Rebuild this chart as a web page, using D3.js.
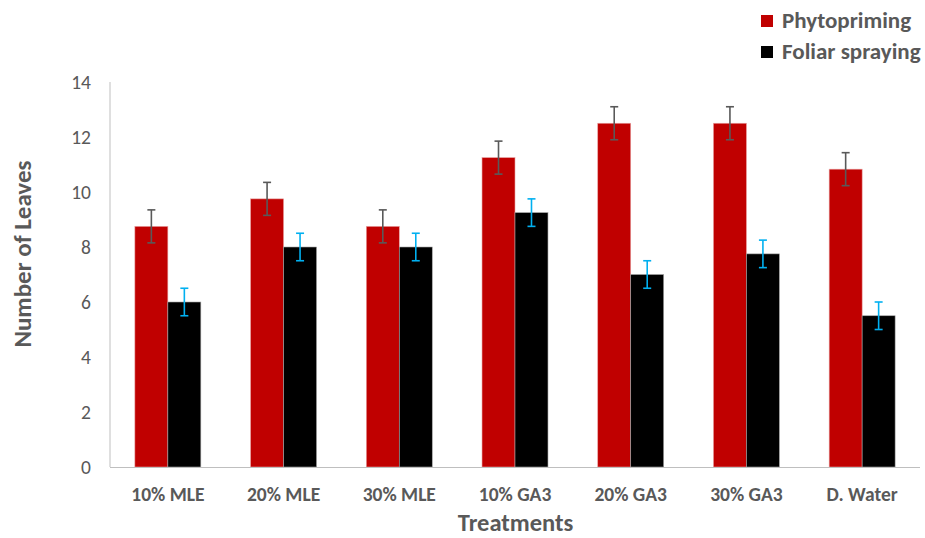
<!DOCTYPE html>
<html><head><meta charset="utf-8">
<script src="https://cdn.jsdelivr.net/npm/d3@7"></script>
<style>body{margin:0;background:#fff;} svg{display:block;}</style>
</head><body>
<svg id="c" width="925" height="538"></svg>
<script>
const categories = ["10% MLE","20% MLE","30% MLE","10% GA3","20% GA3","30% GA3","D. Water"];
const seriesNames = ["Phytopriming","Foliar spraying"];
const phytopriming = [8.75, 9.75, 8.75, 11.25, 12.5, 12.5, 10.83];
const phytoErr = [0.6, 0.6, 0.6, 0.6, 0.6, 0.6, 0.6];
const foliar = [6, 8, 8, 9.25, 7, 7.75, 5.5];
const foliarErr = [0.5, 0.5, 0.5, 0.5, 0.5, 0.5, 0.5];
const yTicks = [0,2,4,6,8,10,12,14];

const colors = ["#C00000","#000000"];
const errColors = ["#595959","#00B0F0"];
const font = "Calibri, Carlito, Lato, 'Open Sans', sans-serif";

const svg = d3.select("#c");
const L = 110, R = 920, T = 82, B = 467;
const x = d3.scaleBand().domain(categories).range([L, R]).paddingInner(0.43).paddingOuter(0.215);
const xs = d3.scaleBand().domain(seriesNames).range([0, x.bandwidth()]);
const y = d3.scaleLinear().domain([0,14]).range([B, T]);

svg.append("line").attr("x1",L).attr("x2",L).attr("y1",T).attr("y2",B).attr("stroke","#BFBFBF").attr("stroke-width",1);

const yAxis = d3.axisLeft(y).tickValues(yTicks).tickSize(0).tickPadding(19);
const ya = svg.append("g").attr("transform",`translate(${L},0)`).call(yAxis);
ya.select(".domain").remove();
ya.selectAll("text").attr("font-family",font).attr("font-size",19.5).attr("fill","#595959");

const data = [phytopriming, foliar];
const errs = [phytoErr, foliarErr];
data.forEach((vals, si) => {
  const g = svg.append("g");
  g.selectAll("rect").data(vals).join("rect")
    .attr("x",(d,i)=>x(categories[i])+xs(seriesNames[si]))
    .attr("y",d=>y(d))
    .attr("width",xs.bandwidth())
    .attr("height",d=>B-y(d))
    .attr("fill",colors[si])
    .attr("stroke", si===0 ? "#E8A0A0" : "#A6A6A6").attr("stroke-width",0.6);
});

svg.append("line").attr("x1",L).attr("x2",R).attr("y1",B+0.5).attr("y2",B+0.5).attr("stroke","#BFBFBF").attr("stroke-width",1.2);

data.forEach((vals, si) => {
  const g = svg.append("g").attr("stroke",errColors[si]).attr("stroke-width",1.6);
  vals.forEach((v,i)=>{
    const cx = x(categories[i])+xs(seriesNames[si])+xs.bandwidth()/2;
    const e = errs[si][i];
    g.append("line").attr("x1",cx).attr("x2",cx).attr("y1",y(v+e)).attr("y2",y(v-e));
    g.append("line").attr("x1",cx-4).attr("x2",cx+4).attr("y1",y(v+e)).attr("y2",y(v+e));
    g.append("line").attr("x1",cx-4).attr("x2",cx+4).attr("y1",y(v-e)).attr("y2",y(v-e));
  });
});

const xAxis = d3.axisBottom(x).tickSize(0).tickPadding(20);
const xa = svg.append("g").attr("transform",`translate(0,${B})`).call(xAxis);
xa.select(".domain").remove();
xa.selectAll("text").attr("font-family",font).attr("font-size",19.5).attr("font-weight","bold").attr("fill","#595959");

svg.append("text").attr("x",(L+R)/2+0.5).attr("y",531).attr("text-anchor","middle")
  .attr("font-family",font).attr("font-size",24.5).attr("font-weight","bold").attr("fill","#595959").text("Treatments");
svg.append("text").attr("transform",`translate(31,254) rotate(-90)`).attr("text-anchor","middle")
  .attr("font-family",font).attr("font-size",25).attr("font-weight","bold").attr("fill","#595959").text("Number of Leaves");

seriesNames.forEach((s,i)=>{
  const ly = 21 + i*31;
  svg.append("rect").attr("x",761).attr("y",ly-6).attr("width",12).attr("height",12).attr("fill",colors[i]);
  svg.append("text").attr("x",782).attr("y",ly+7).attr("font-family",font).attr("font-size",23).attr("font-weight","bold").attr("fill","#595959").text(s);
});
</script>
</body></html>
